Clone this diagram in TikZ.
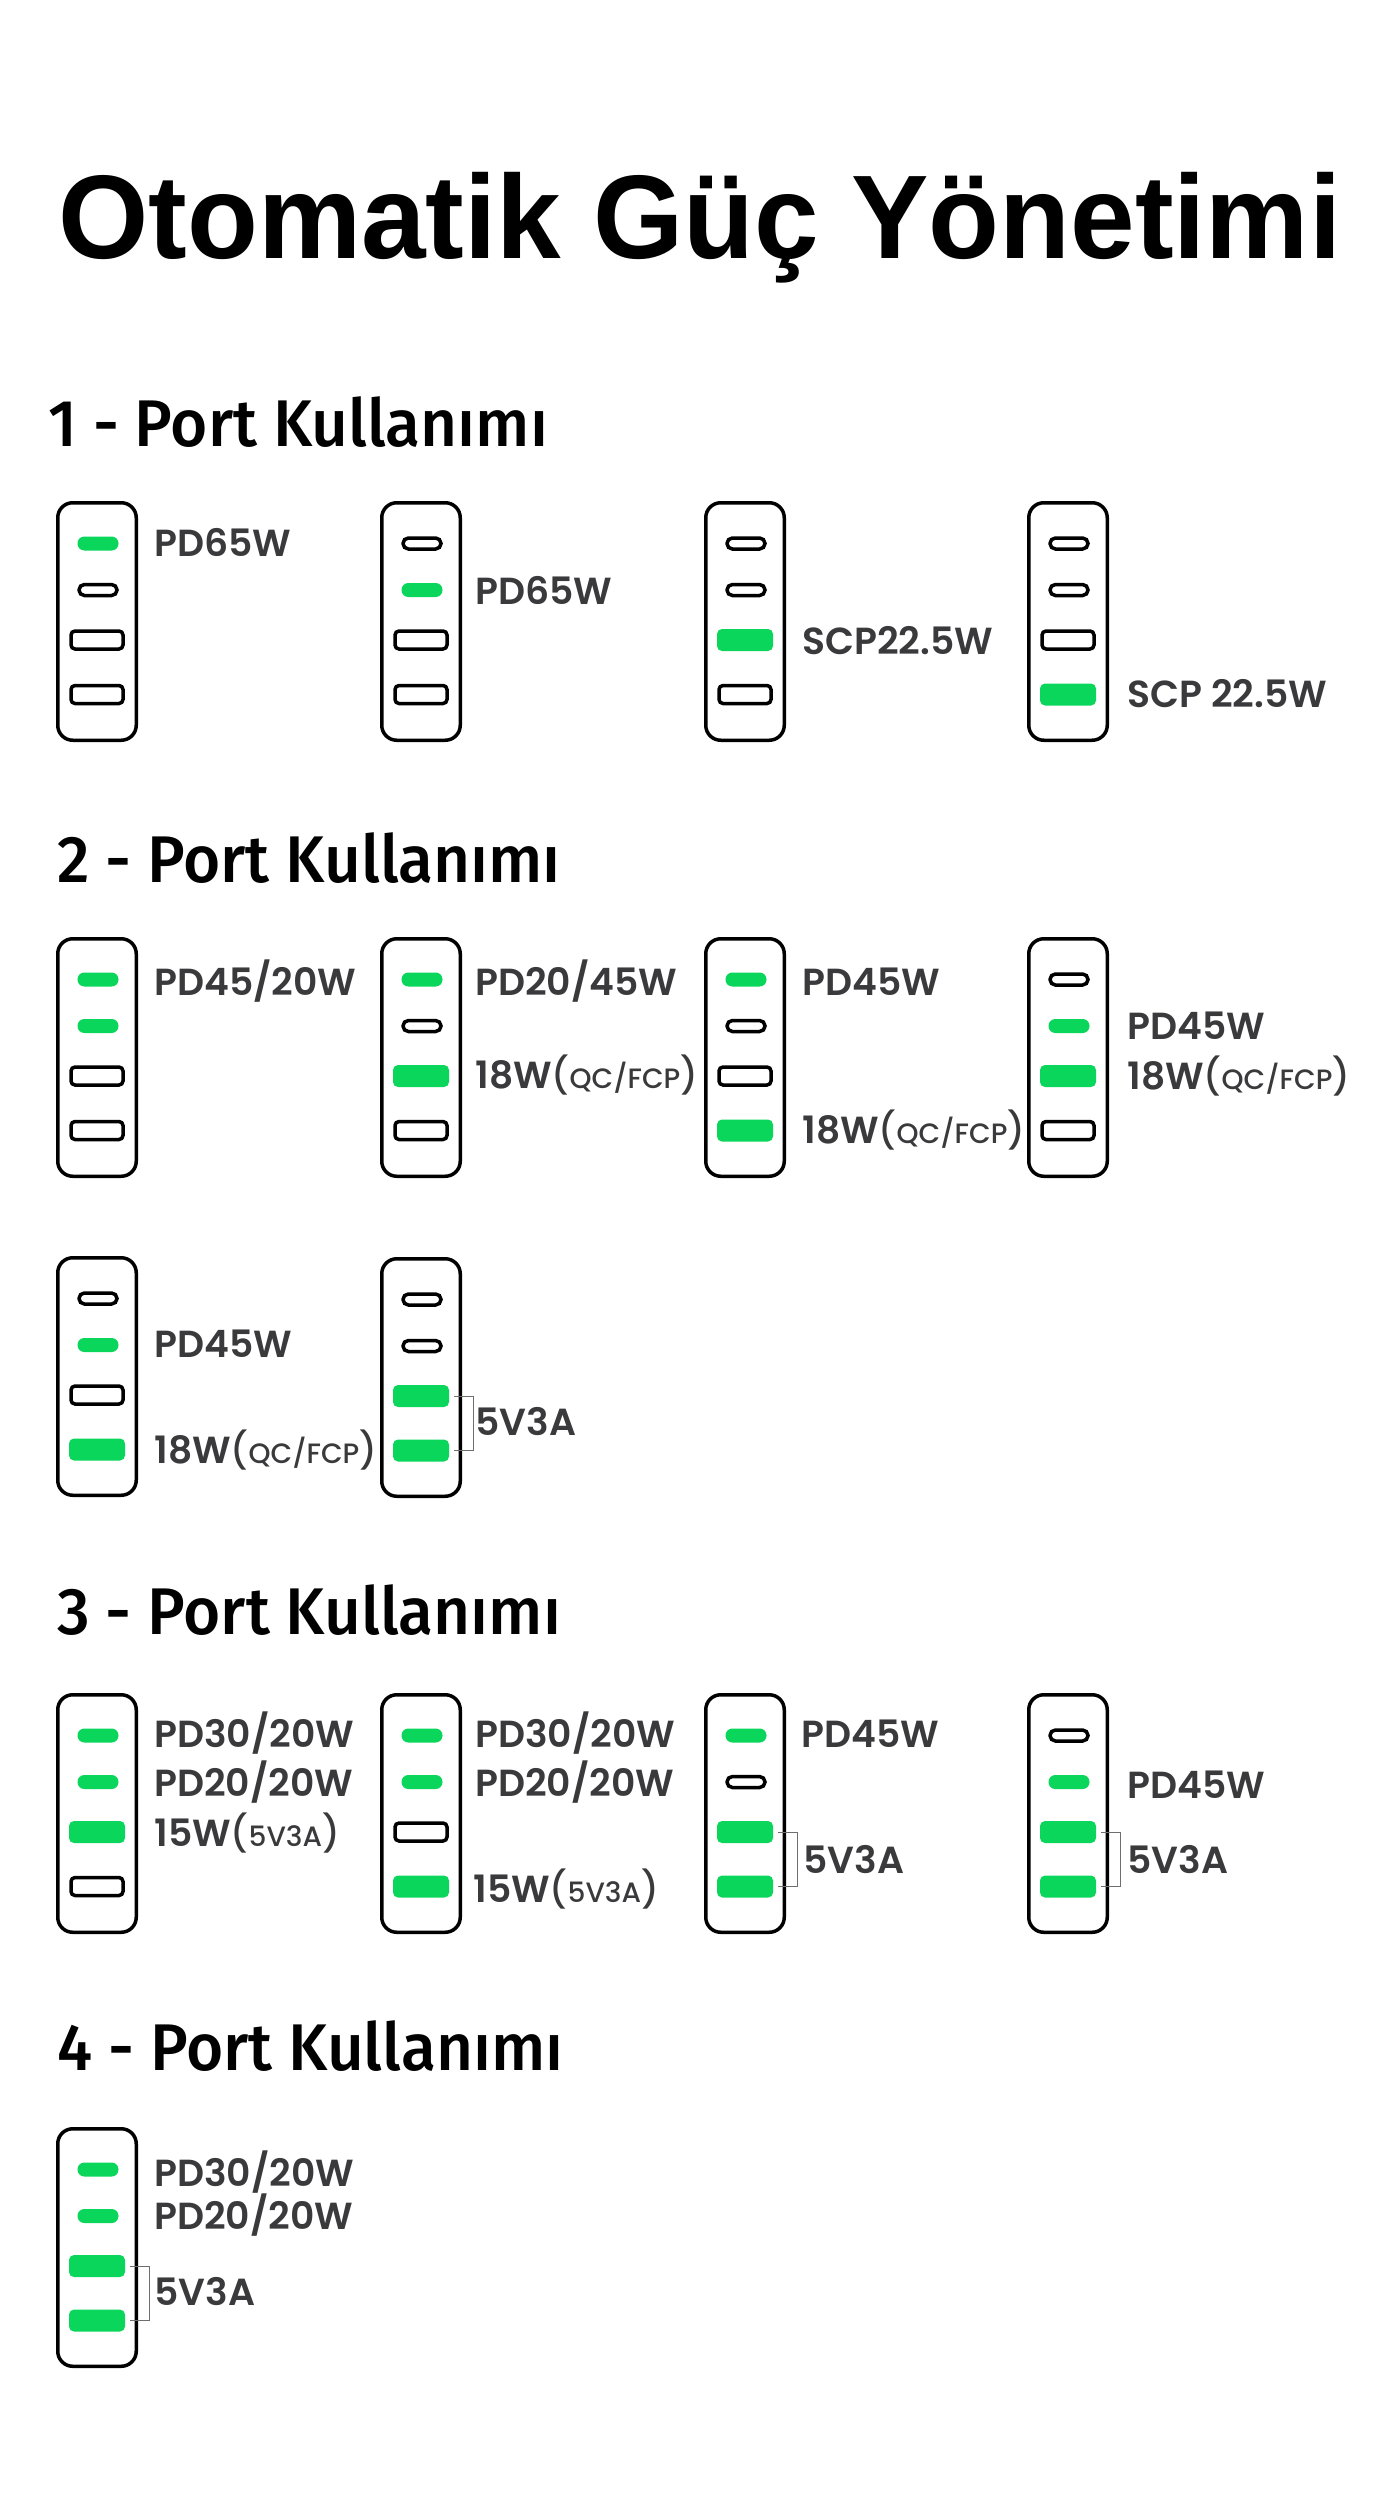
\documentclass[tikz,border=0pt]{standalone}
\usepackage{fontspec}
\usepackage{xcolor}
\setmainfont{Liberation Sans}
\newfontfamily\titlefont[FakeStretch=0.975]{Liberation Sans Bold}
\newfontfamily\headfont[FakeStretch=0.968]{Fira Sans Medium}
\newfontfamily\wattfont{Poppins SemiBold}
\newfontfamily\smallfont{Poppins Medium}
\usetikzlibrary{positioning}
\definecolor{mygreen}{RGB}{10,214,92}
\definecolor{mytext}{RGB}{58,58,60}
\definecolor{mybracket}{RGB}{110,110,110}
\tikzstyle{port}=[rectangle, inner sep=0pt, line width=1.75pt]
\tikzstyle{charger}=[port, draw=black, fill=white, rounded corners=7.5pt, minimum width=39.25pt, minimum height=118.75pt, anchor=north]
\tikzstyle{cport off}=[port, draw=black, fill=white, rounded corners=2.7pt, minimum width=19pt, minimum height=5.5pt]
\tikzstyle{aport off}=[port, draw=black, fill=white, rounded corners=2pt, minimum width=26pt, minimum height=9pt]
\tikzstyle{cport on}=[port, fill=mygreen, rounded corners=3.4pt, minimum width=20.5pt, minimum height=7pt]
\tikzstyle{aport on}=[port, fill=mygreen, rounded corners=2.5pt, minimum width=28pt, minimum height=11pt]
\tikzstyle{watt}=[anchor=west, inner sep=0pt, text height=13.5pt, text depth=0pt, text=mytext, font=\fontsize{18.85}{19}\wattfont]
\tikzstyle{heading}=[anchor=base west, inner sep=0pt, font=\fontsize{33}{33}\headfont]
\tikzstyle{bracket}=[mybracket, line width=0.5pt]
% big brackets round smaller capitals
\newcommand{\qc}[1]{{\smallfont\fontsize{18}{18}\selectfont(}{\smallfont\fontsize{14}{14}\selectfont #1}{\smallfont\fontsize{18}{18}\selectfont)}}

\begin{document}
\begin{tikzpicture}[x=0.5pt, y=-0.5pt]
\useasboundingbox (0,0) rectangle (1400,2520);

\node[anchor=base west, inner sep=0pt, font=\fontsize{59.5}{59.5}\titlefont] (title) at (58,259) {Otomatik Güç Yönetimi};

\node[heading] (head1) at (48,446) {1 - Port Kullanımı};
\node[heading] (head2) at (57,882) {2 - Port Kullanımı};
\node[heading] (head3) at (57,1634) {3 - Port Kullanımı};
\node[heading] (head4) at (57,2070) {4 - Port Kullanımı};

% one charger per line: name / x / top / state of the four ports
\foreach \name/\cx/\ty/\pa/\pb/\pc/\pd in {
    a1/97/501/on/off/off/off, a2/421/501/off/on/off/off, a3/745/501/off/off/on/off, a4/1068/501/off/off/off/on,
    b1/97/937/on/on/off/off, b2/421/937/on/off/on/off, b3/745/937/on/off/off/on, b4/1068/937/off/on/on/off,
    c1/97/1256/off/on/off/on, c2/421/1257/off/off/on/on,
    d1/97/1693/on/on/on/off, d2/421/1693/on/on/off/on, d3/745/1693/on/off/on/on, d4/1068/1693/off/on/on/on,
    e1/97/2127/on/on/on/on}{
    \node[charger] (\name) at (\cx,\ty) {};
    \node[cport \pa] (\name-1) at ([xshift=0.5pt,yshift=-21.25pt]\name.north) {};
    \node[cport \pb] (\name-2) at ([xshift=0.5pt,yshift=-44.5pt]\name.north) {};
    \node[aport \pc] (\name-3) at ([yshift=-69.5pt]\name.north) {};
    \node[aport \pd] (\name-4) at ([yshift=-96.75pt]\name.north) {};
}

% port labels
\node[watt] (a1t) at (154,543) {PD65W};
\node[watt] (a2t) at (475,591) {PD65W};
\node[watt] (a3t) at (802,641) {SCP22.5W};
\node[watt] (a4t) at (1127,694) {SCP 22.5W};

\node[watt] (b1t) at (154,982) {PD45/20W};
\node[watt] (b2t) at (475,982) {PD20/45W};
\node[watt] (b2u) at (475,1075) {18W\qc{QC/FCP}};
\node[watt] (b3t) at (802,982) {PD45W};
\node[watt] (b3u) at (802,1130) {18W\qc{QC/FCP}};
\node[watt] (b4t) at (1127,1026) {PD45W};
\node[watt] (b4u) at (1127,1076) {18W\qc{QC/FCP}};

\node[watt] (c1t) at (154,1344) {PD45W};
\node[watt] (c1u) at (154,1450) {18W\qc{QC/FCP}};
\node[watt] (c2t) at (475,1422) {5V3A};

\node[watt] (d1t) at (154,1734) {PD30/20W};
\node[watt] (d1u) at (154,1783) {PD20/20W};
\node[watt] (d1v) at (154,1833) {15W\qc{5V3A}};
\node[watt] (d2t) at (475,1734) {PD30/20W};
\node[watt] (d2u) at (475,1783) {PD20/20W};
\node[watt] (d2v) at (473,1889) {15W\qc{5V3A}};
\node[watt] (d3t) at (801,1734) {PD45W};
\node[watt] (d3u) at (803,1860) {5V3A};
\node[watt] (d4t) at (1127,1785) {PD45W};
\node[watt] (d4u) at (1127,1860) {5V3A};

\node[watt] (e1t) at (154,2173) {PD30/20W};
\node[watt] (e1u) at (154,2216) {PD20/20W};
\node[watt] (e1v) at (154,2292) {5V3A};

% brackets joining the two USB-A ports
\foreach \name in {c2,d3,d4,e1}{
    \draw[bracket] ([xshift=1.5pt]\name-3.east) -- ([xshift=11.5pt]\name-3.east) -- ([xshift=11.5pt]\name-4.east) -- ([xshift=1.5pt]\name-4.east);
}

\end{tikzpicture}
\end{document}
